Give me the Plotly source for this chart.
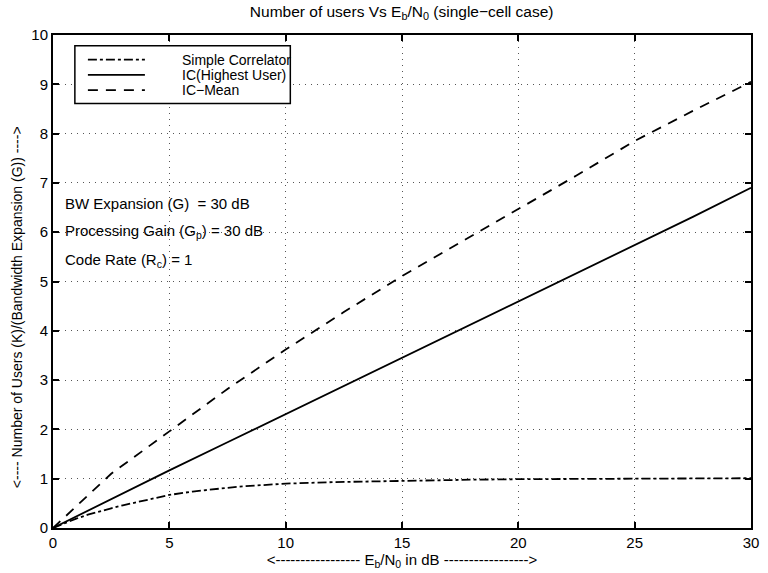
import plotly.graph_objects as go

ebno_sc = [0, 0.5, 1, 1.5, 2, 2.5, 3, 4, 5, 6, 7, 8, 9, 10, 12, 15, 18, 20, 25, 30]
simple_corr = [0, 0.1, 0.19, 0.27, 0.34, 0.40, 0.46, 0.57, 0.67, 0.74, 0.79, 0.84, 0.87, 0.90, 0.93, 0.96, 0.98, 0.99, 1.0, 1.01]

ebno = [0, 2.5, 5, 7.5, 10, 12.5, 15, 17.5, 20, 22.5, 25, 27.5, 30]
ic_high = [0, 0.59, 1.17, 1.74, 2.31, 2.88, 3.45, 4.02, 4.59, 5.16, 5.73, 6.31, 6.9]
ic_mean = [0, 1.10, 1.96, 2.82, 3.62, 4.38, 5.11, 5.79, 6.46, 7.15, 7.85, 8.46, 9.05]

x_ticks = [0, 5, 10, 15, 20, 25, 30]
y_ticks = list(range(0, 11))

series_names = ["Simple Correlator", "IC(Highest User)", "IC\u2212Mean"]
series_dash = ["dashdot", "solid", "10px,8px"]

font = "Liberation Sans, Arial, sans-serif"

fig = go.Figure()
series = [(ebno_sc, simple_corr), (ebno, ic_high), (ebno, ic_mean)]
for (xs, ys), nm, ds in zip(series, series_names, series_dash):
    fig.add_trace(go.Scatter(x=xs, y=ys, mode="lines", name=nm, showlegend=False,
                             line=dict(color="black", width=1.8, dash=ds)))

axis_common = dict(showline=True, linecolor="black", linewidth=2, mirror="ticks",
                   ticks="inside", ticklen=6, tickcolor="black", tickwidth=1.5,
                   showgrid=True, gridcolor="#555", griddash="1px,5px", gridwidth=1.2,
                   zeroline=False, tickfont=dict(family=font, size=15, color="black"))

fig.update_xaxes(range=[0, 30], tickvals=x_ticks, **axis_common,
                 title=dict(text="<----------------- E<sub>b</sub>/N<sub>0</sub> in dB ----------------->",
                            font=dict(family=font, size=15, color="black"), standoff=2))
fig.update_yaxes(range=[0, 10], tickvals=y_ticks, **axis_common)

fig.update_layout(
    width=768, height=573,
    margin=dict(l=53, r=9, t=35, b=40),
    paper_bgcolor="white", plot_bgcolor="white",
    title=dict(text="Number of users Vs E<sub>b</sub>/N<sub>0</sub> (single\u2212cell case)",
               x=0.523, xanchor="center", y=0.99, yanchor="top",
               font=dict(family=font, size=15.5, color="black")),
    showlegend=False,
    font=dict(family=font, color="black"),
)

# y-axis title
fig.add_annotation(x=0, xref="paper", xshift=-36, y=4.48, yref="y", textangle=-90,
                   text="<---- Number of Users (K)/(Bandwidth Expansion (G)) ---->",
                   showarrow=False, xanchor="center", yanchor="middle",
                   font=dict(family=font, size=14, color="black"))

# legend box (drawn manually to match the original key)
fig.add_shape(type="rect", xref="x", yref="y", x0=0.94, x1=10.2, y0=8.61, y1=9.78,
              line=dict(color="black", width=1.5), fillcolor="white", layer="above")
leg_rows = [9.5, 9.19, 8.88]
for yv, nm, ds in zip(leg_rows, series_names, series_dash):
    fig.add_shape(type="line", xref="x", yref="y", x0=1.5, x1=3.95, y0=yv, y1=yv,
                  line=dict(color="black", width=1.8, dash=ds), layer="above")
    fig.add_annotation(x=5.45, y=yv, xref="x", yref="y", text=nm, showarrow=False,
                       xanchor="left", yanchor="middle",
                       font=dict(family=font, size=14, color="black"))

ann = [
    (6.59, "BW Expansion (G)  = 30 dB"),
    (6.02, "Processing Gain (G<sub>p</sub>) = 30 dB"),
    (5.42, "Code Rate (R<sub>c</sub>) = 1"),
]
for yv, txt in ann:
    fig.add_annotation(x=0.45, y=yv, xref="x", yref="y", text=txt, showarrow=False,
                       xanchor="left", yanchor="middle",
                       font=dict(family=font, size=15, color="black"))

fig.write_html("out.html")
